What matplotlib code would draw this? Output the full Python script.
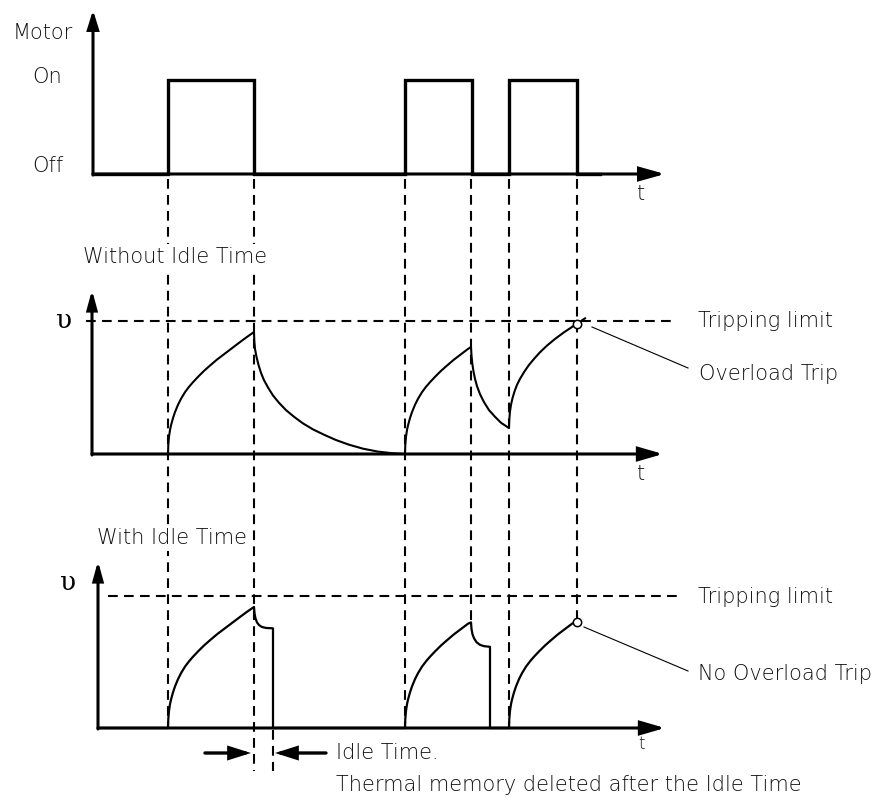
import matplotlib
matplotlib.use("Agg")
import matplotlib.pyplot as plt

plt.rcParams['lines.scale_dashes'] = False
plt.rcParams['font.family'] = ['DejaVu Sans']

# Motor switching: times and on/off state after each time
switch_t = [93, 168, 254, 405, 472, 509, 577, 600]
motor_state = [0, 1, 0, 1, 0, 1, 0, 0]

# Thermal image without idle time (level 1.0 = tripping limit)
plain_t = [92, 168, 168.3, 169, 170, 171, 173, 175, 178, 181, 185, 189, 193, 198, 204, 210,
           217, 224, 231, 238, 246, 254,
           254.3, 255, 256.5, 258.5, 261, 264, 268, 273, 279, 286, 294, 303, 313, 324,
           336, 349, 363, 378, 392, 405,
           405.3, 406, 407, 408, 410, 412, 415, 418, 422, 426, 430, 435, 441, 447, 454,
           461, 468, 471,
           471.5, 472.3, 473.5, 475, 477, 480, 484, 489, 495, 501, 509,
           509.3, 510, 511, 512.5, 514.5, 517, 520, 524, 528.5, 534, 540, 547, 555, 564,
           574, 577, 585]
plain_lvl = [0, 0, 0.07, 0.13, 0.18, 0.215, 0.27, 0.315, 0.37, 0.415, 0.465, 0.505, 0.54,
             0.58, 0.625, 0.665, 0.71, 0.75, 0.79, 0.83, 0.875, 0.917,
             0.85, 0.79, 0.73, 0.67, 0.61, 0.555, 0.50, 0.44, 0.385, 0.33, 0.28, 0.23, 0.185,
             0.145, 0.105, 0.07, 0.04, 0.018, 0.006, 0,
             0.07, 0.13, 0.18, 0.215, 0.27, 0.315, 0.37, 0.415, 0.465, 0.505, 0.54, 0.58,
             0.625, 0.665, 0.71, 0.75, 0.79, 0.805,
             0.74, 0.68, 0.62, 0.565, 0.51, 0.45, 0.39, 0.33, 0.28, 0.235, 0.195,
             0.26, 0.32, 0.37, 0.42, 0.47, 0.52, 0.565, 0.615, 0.665, 0.715, 0.765, 0.815,
             0.865, 0.915, 0.965, 0.98, 1.02]

# Thermal image with idle time (memory deleted after the idle time)
idle_t = [98, 168, 168.3, 169, 170, 171, 173, 175, 178, 181, 185, 189, 193, 198, 204, 210,
          217, 224, 231, 238, 246, 254,
          254.5, 255.5, 257, 259, 262, 266, 273, 273, 405,
          405.3, 406, 407, 408, 410, 412, 415, 418, 422, 426, 430, 435, 441, 447, 454,
          461, 468, 471,
          471.5, 472.5, 474, 476.5, 480, 484, 490, 490, 509,
          509.3, 510, 511, 512, 514, 516, 519, 522, 526, 530, 534, 539, 545, 551, 558,
          565, 572, 575]
idle_lvl = [0, 0, 0.07, 0.13, 0.18, 0.215, 0.27, 0.315, 0.37, 0.415, 0.465, 0.505, 0.54,
            0.58, 0.625, 0.665, 0.71, 0.75, 0.79, 0.83, 0.875, 0.917,
            0.87, 0.83, 0.80, 0.78, 0.765, 0.758, 0.755, 0, 0,
            0.07, 0.13, 0.18, 0.215, 0.27, 0.315, 0.37, 0.415, 0.465, 0.505, 0.54, 0.58,
            0.625, 0.665, 0.71, 0.75, 0.79, 0.80,
            0.75, 0.71, 0.68, 0.65, 0.63, 0.62, 0.615, 0, 0,
            0.07, 0.13, 0.18, 0.215, 0.27, 0.315, 0.37, 0.415, 0.465, 0.505, 0.54, 0.58,
            0.625, 0.665, 0.71, 0.75, 0.79, 0.80]

# dashed guide lines: time and lower end
guide_t = [168, 254, 405, 471, 509, 577]
guide_end = [728, 771, 728, 624, 728, 619]

# panel layout (baseline row, rows per unit level)
top_base, top_scale = 174, 94
mid_base, mid_scale = 454, 133
bot_base, bot_scale = 728, 132

ink = 'black'
txt = '#111111'

fig = plt.figure(figsize=(8.85, 8), dpi=100)
ax = fig.add_axes([0, 0, 1, 1])
ax.set_xlim(0, 885)
ax.set_ylim(800, 0)
ax.axis('off')


def arrow(x0, y0, x1, y1, hl, hw, lw=2.2):
    ax.annotate('', xy=(x1, y1), xytext=(x0, y0),
                arrowprops=dict(arrowstyle=f'-|>,head_length={hl},head_width={hw}',
                                lw=lw, color=ink, shrinkA=0, shrinkB=0,
                                mutation_scale=10, joinstyle='miter'))


dash = (0, (7, 4.5))

# vertical guides
for t, end in zip(guide_t, guide_end):
    ax.plot([t, t], [179, end], color=ink, lw=1.5, ls=dash, zorder=1)
ax.plot([273, 273], [730, 771], color=ink, lw=1.5, ls=dash, zorder=1)

# tripping limits
ax.plot([86, 675], [mid_base - mid_scale] * 2, color=ink, lw=1.5, ls=dash, zorder=1)
ax.plot([108, 679], [bot_base - bot_scale] * 2, color=ink, lw=1.5, ls=dash, zorder=1)

# axes
arrow(93, top_base + 1, 93, 10, 1.1, 0.34)
arrow(93, top_base, 665, top_base, 1.5, 0.42)
arrow(92, mid_base + 1, 92, 290, 1.1, 0.3)
arrow(92, mid_base, 663, mid_base, 1.45, 0.42)
arrow(98, bot_base + 1, 98, 561, 1.1, 0.3)
arrow(98, bot_base, 665, bot_base, 1.45, 0.42)

# motor signal
ax.step(switch_t, [top_base - top_scale * s for s in motor_state], where='post',
        color=ink, lw=2.4, solid_joinstyle='miter', zorder=3)

# thermal curves
ax.plot(plain_t, [mid_base - mid_scale * v for v in plain_lvl], color=ink, lw=1.5, zorder=3)
ax.plot(idle_t, [bot_base - bot_scale * v for v in idle_lvl], color=ink, lw=1.6, zorder=3)

# trip markers
ax.plot(577, mid_base - mid_scale * 0.98, 'o', ms=6, mfc='white', mec=ink, mew=1.1, zorder=4)
ax.plot(577, bot_base - bot_scale * 0.80, 'o', ms=6, mfc='white', mec=ink, mew=1.1, zorder=4)
ax.plot([592, 688], [327, 368], color=ink, lw=0.8)
ax.plot([584, 688], [627, 671], color=ink, lw=0.8)

# idle time arrows
arrow(205, 753, 251, 753, 1.2, 0.38, lw=2.4)
arrow(326, 753, 275, 753, 1.2, 0.38, lw=2.4)

# labels
fs = 15
kw = dict(fontsize=fs, color=txt, va='center', fontweight='light')
white = dict(facecolor='white', edgecolor='none', pad=2)
ax.text(13, 33, 'Motor', **kw)
ax.text(32, 77, 'On', **kw)
ax.text(32, 166, 'Off', **kw)
ax.text(641, 194, 't', ha='center', **kw)
ax.text(83, 257, 'Without Idle Time', bbox=white, zorder=5, **kw)
ax.text(64, 320, 'υ', fontsize=19, color=ink, ha='center', va='center', family='DejaVu Serif')
ax.text(698, 321, 'Tripping limit', **kw)
ax.text(699, 374, 'Overload Trip', **kw)
ax.text(641, 474, 't', ha='center', **kw)
ax.text(97, 538, 'With Idle Time', bbox=white, zorder=5, **kw)
ax.text(68, 583, 'υ', fontsize=19, color=ink, ha='center', va='center', family='DejaVu Serif')
ax.text(698, 597, 'Tripping limit', **kw)
ax.text(698, 674, 'No Overload Trip', **kw)
ax.text(641, 744, 't', fontsize=12, color=txt, ha='center', va='center', fontweight='light')
ax.text(336, 753, 'Idle Time.', **kw)
ax.text(336, 785, 'Thermal memory deleted after the Idle Time', **kw)

fig.savefig('out.png', dpi=100)
